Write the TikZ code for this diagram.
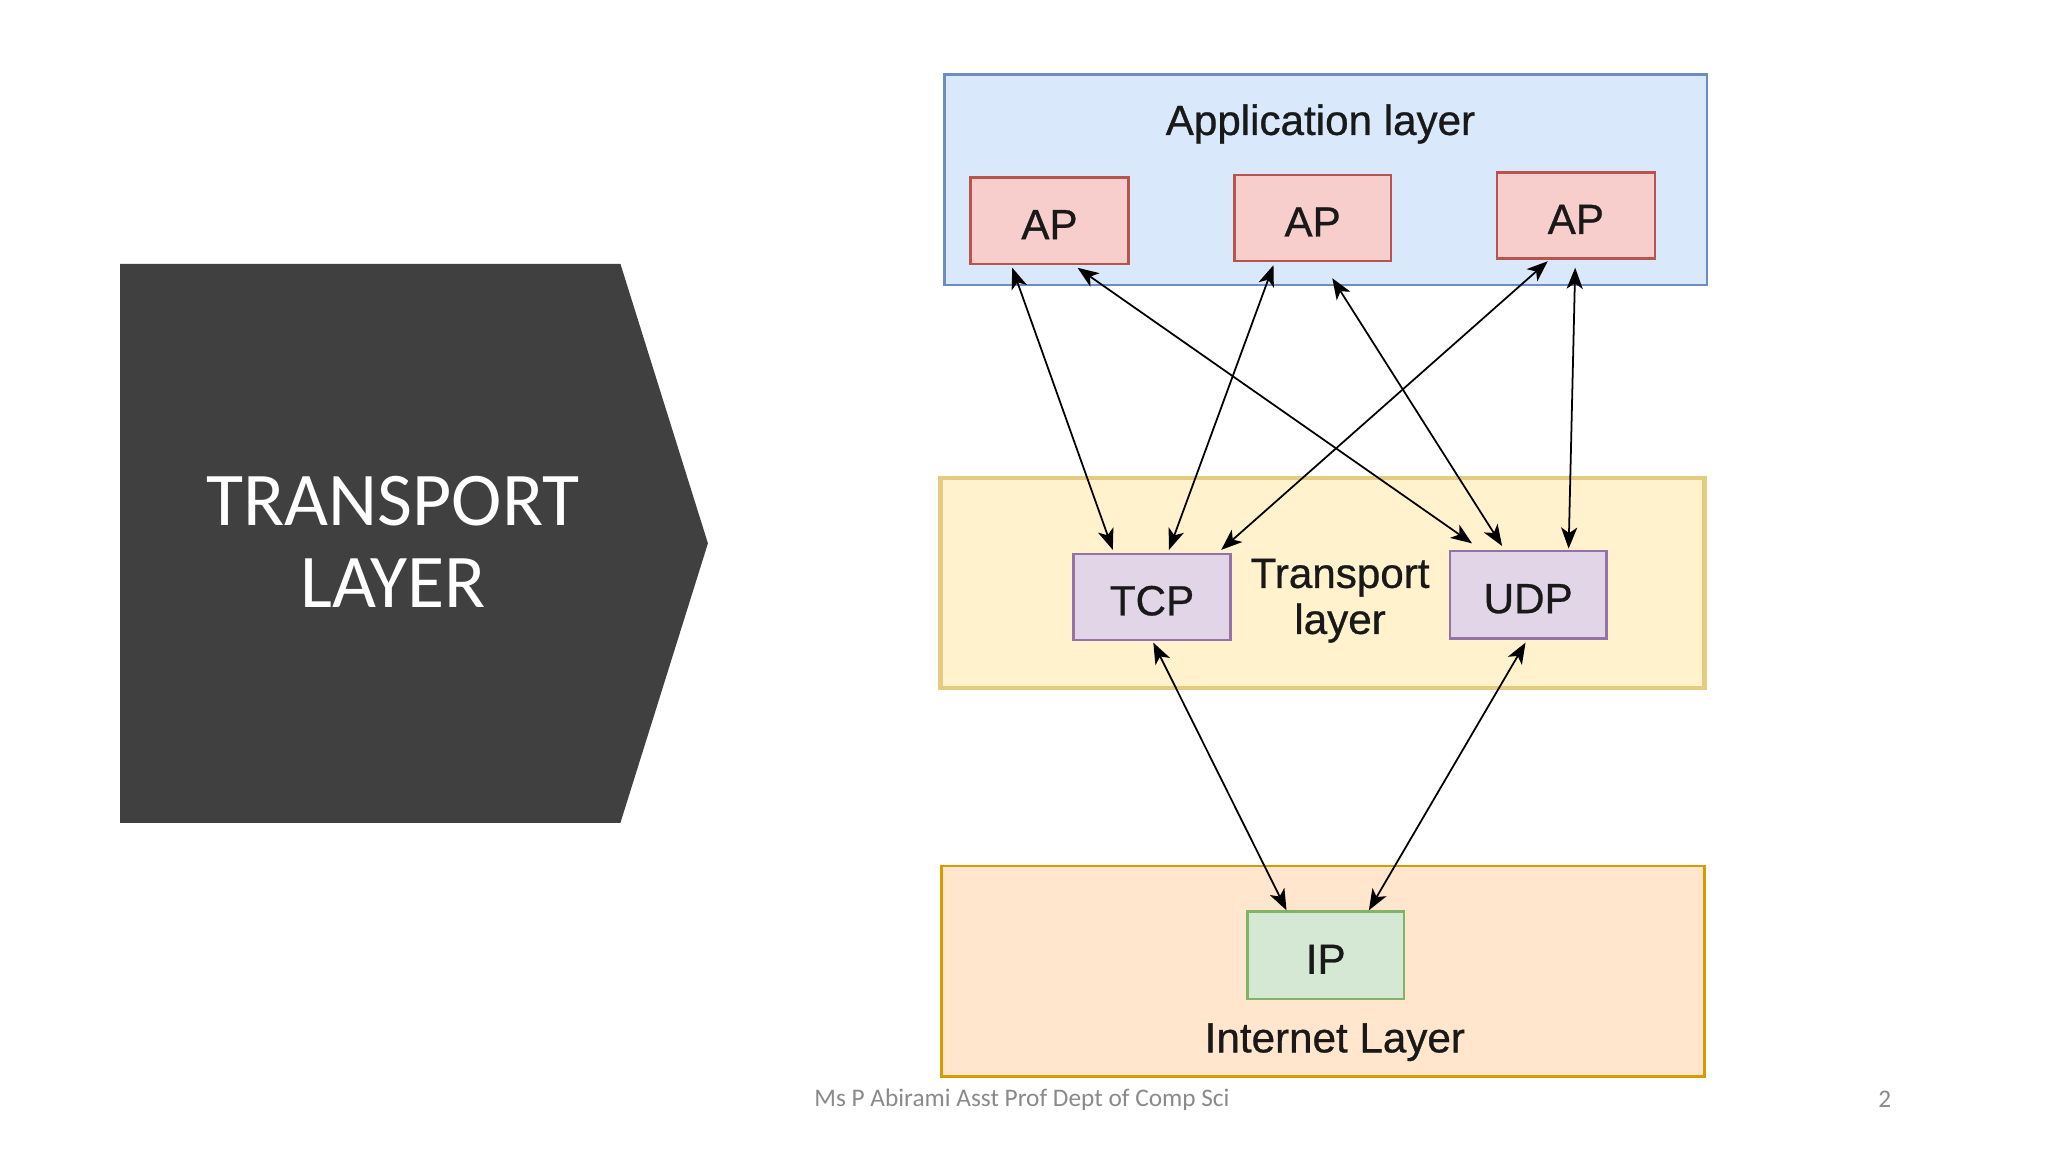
\documentclass[tikz,border=0pt]{standalone}
\usepackage{fontspec}
\setmainfont{Liberation Sans}[FakeBold=0.7]
\newfontfamily\calibri{Carlito}
\usetikzlibrary{arrows.meta,fit,calc}
\definecolor{appfill}{HTML}{DAE8FC}\definecolor{appdraw}{HTML}{6C8EBF}
\definecolor{apfill}{HTML}{F8CECC}\definecolor{apdraw}{HTML}{B85450}
\definecolor{trfill}{HTML}{FFF2CC}\definecolor{trdraw}{HTML}{E3CC80}
\definecolor{prfill}{HTML}{E1D5E7}\definecolor{prdraw}{HTML}{9673A6}
\definecolor{infill}{HTML}{FFE6CC}\definecolor{indraw}{HTML}{D79B00}
\definecolor{ipfill}{HTML}{D5E8D4}\definecolor{ipdraw}{HTML}{82B366}
\definecolor{slate}{HTML}{404040}
\definecolor{foot}{HTML}{8A8A8A}
\tikzset{
  layerbox/.style={inner sep=0pt, outer sep=0pt, line width=0.7pt},
  itembox/.style={inner sep=0pt, outer sep=0pt, line width=0.7pt},
  apbox/.style={itembox, fill=apfill, draw=apdraw},
  protobox/.style={itembox, fill=prfill, draw=prdraw},
  ipbox/.style={itembox, fill=ipfill, draw=ipdraw},
  lbl/.style={font=\fontsize{12}{13.1}\selectfont, align=center, inner sep=0pt, text=black!90, yshift=-1.1pt},
  link/.style={line width=0.5pt, arrows={Stealth[length=6pt,width=4.6pt,inset=1.6pt]-Stealth[length=6pt,width=4.6pt,inset=1.6pt]}}
}
\begin{document}
\begin{tikzpicture}[x=0.013061cm, y=-0.013061cm]
\fill[white] (0,0) rectangle (1568,882);
\path[use as bounding box] (0,0) rectangle (1568,882);
% left banner
\fill[slate] (92,202) -- (475,202) -- (542,416) -- (475,630) -- (92,630) -- cycle;
\node[text=white, align=center, font=\calibri\fontsize{21.6}{23.4}\selectfont, inner sep=0pt] (title) at (301,415) {TRANSPORT\\LAYER};
% layers
\node[layerbox, fill=appfill, draw=appdraw, fit={(723,57)(1307,218)}] (app) {};
\node[layerbox, fill=trfill, draw=trdraw, line width=1.2pt, fit={(720,366)(1305,527)}] (trans) {};
\node[layerbox, fill=infill, draw=indraw, line width=0.8pt, fit={(721,663)(1305,824)}] (inet) {};
\node[lbl] (applbl) at (1011,92) {Application layer};
\node[lbl] (trlbl) at (1026,457) {Transport\\layer};
\node[lbl] (inlbl) at (1022,795) {Internet Layer};
% items
\node[apbox, fit={(743,136)(864,202)}, label={[lbl]center:AP}] (ap1) {};
\node[apbox, fit={(945,134)(1065,200)}, label={[lbl]center:AP}] (ap2) {};
\node[apbox, fit={(1146,132)(1267,198)}, label={[lbl]center:AP}] (ap3) {};
\node[protobox, fit={(822,424)(942,490)}, label={[lbl]center:TCP}] (tcp) {};
\node[protobox, fit={(1110,422)(1230,489)}, label={[lbl]center:UDP}] (udp) {};
\node[ipbox, fit={(955,698)(1075,765)}, label={[lbl]center:IP}] (ip) {};
% connectors
\draw[link] ($(ap1.south)+(-28.5,3)$) -- ($(tcp.north)+(-30,-3)$);
\draw[link] ($(ap1.south)+(21.5,3)$) -- ($(udp.north)+(-43,-6)$);
\draw[link] ($(ap2.south)+(-30,3)$) -- ($(tcp.north)+(13,-3)$);
\draw[link] ($(ap2.south)+(15,13)$) -- ($(udp.north)+(-20,-4)$);
\draw[link] ($(ap3.south)+(-21.5,2)$) -- ($(tcp.north)+(53,-3)$);
\draw[link] ($(ap3.south)+(-0.5,7)$) -- ($(udp.north)+(31,-2)$);
\draw[link] ($(tcp.south)+(1,2)$) -- ($(ip.north)+(-30,-1)$);
\draw[link] ($(udp.south)+(-2,3)$) -- ($(ip.north)+(33,-1)$);
% footer
\node[anchor=west, text=foot, font=\calibri\fontsize{7.2}{8}\selectfont, inner sep=0pt] (footer) at (623,842) {Ms P Abirami Asst Prof Dept of Comp Sci};
\node[text=foot, font=\calibri\fontsize{7.2}{8}\selectfont, inner sep=0pt] (pagenum) at (1443,842) {2};
\end{tikzpicture}
\end{document}
